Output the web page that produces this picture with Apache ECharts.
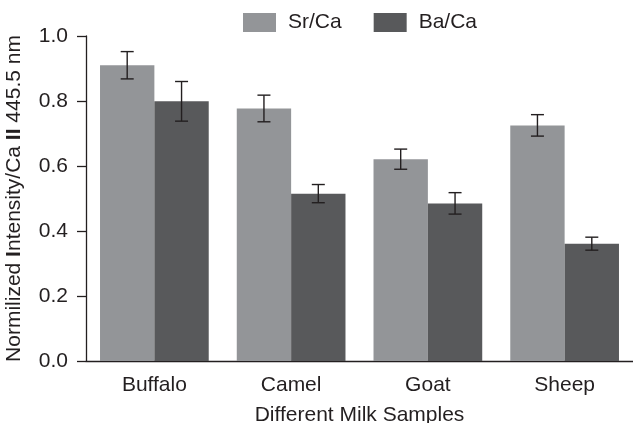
<!DOCTYPE html>
<html>
<head>
<meta charset="utf-8">
<script src="https://cdn.jsdelivr.net/npm/echarts@6/dist/echarts.min.js"></script>
<style>html,body{margin:0;padding:0;background:#fff}#c{width:633px;height:423px}</style>
</head>
<body>
<div id="c"></div>
<script>
const categories = ['Buffalo', 'Camel', 'Goat', 'Sheep'];
const seriesNames = ['Sr/Ca', 'Ba/Ca'];
const srValues = [0.910, 0.777, 0.621, 0.725];
const srErrors = [0.042, 0.041, 0.031, 0.033];
const baValues = [0.799, 0.515, 0.485, 0.361];
const baErrors = [0.061, 0.028, 0.033, 0.020];

const FONT = "'Liberation Sans', Arial, sans-serif";
const TXT = '#231f20';
const CAT_GAP = 0.205;

function errSeries(values, errs, idx) {
  return {
    type: 'custom',
    name: seriesNames[idx] + ' err',
    z: 10,
    silent: true,
    data: categories.map((c, i) => [i, values[i] - errs[i], values[i] + errs[i]]),
    renderItem: function (params, api) {
      const x = api.value(0);
      const lo = api.coord([x, api.value(1)]);
      const hi = api.coord([x, api.value(2)]);
      const band = api.size([1, 0])[0];
      const bw = band * (1 - CAT_GAP) / 2;
      const cx = lo[0] + (idx === 0 ? -bw / 2 : bw / 2);
      const cap = 6.5;
      const st = { stroke: TXT, lineWidth: 1.4 };
      return {
        type: 'group',
        children: [
          { type: 'line', shape: { x1: cx, y1: lo[1], x2: cx, y2: hi[1] }, style: st },
          { type: 'line', shape: { x1: cx - cap, y1: lo[1], x2: cx + cap, y2: lo[1] }, style: st },
          { type: 'line', shape: { x1: cx - cap, y1: hi[1], x2: cx + cap, y2: hi[1] }, style: st }
        ]
      };
    }
  };
}

const chart = echarts.init(document.getElementById('c'));
chart.setOption({
  animation: false,
  textStyle: { fontFamily: FONT, color: TXT },
  grid: { left: 86, right: 0, top: 36, bottom: 62, containLabel: false, outerBoundsMode: 'none' },
  legend: {
    data: seriesNames,
    left: 243,
    top: 12,
    padding: 0,
    icon: 'rect',
    itemWidth: 33,
    itemHeight: 19,
    itemGap: 32,
    textStyle: { fontFamily: FONT, fontSize: 21, color: TXT, padding: [0, 0, 0, 7] }
  },
  xAxis: {
    type: 'category',
    data: categories,
    name: 'Different Milk Samples',
    nameLocation: 'middle',
    nameGap: 44,
    nameTextStyle: { fontFamily: FONT, fontSize: 21, color: TXT },
    axisLine: { lineStyle: { color: TXT, width: 1.3 } },
    axisTick: { alignWithLabel: true, length: 8, lineStyle: { color: TXT, width: 1.3 } },
    axisLabel: { fontFamily: FONT, fontSize: 21, color: TXT, margin: 14 }
  },
  yAxis: {
    type: 'value',
    min: 0,
    max: 1.0,
    interval: 0.2,
    name: '{n|Normilized }{b|I}{n|ntensity/Ca }{b|II}{n| 445.5 nm}',
    nameLocation: 'middle',
    nameGap: 61,
    nameTextStyle: {
      fontFamily: FONT, fontSize: 21, color: TXT,
      rich: {
        n: { fontFamily: FONT, fontSize: 21, color: TXT },
        b: { fontFamily: FONT, fontSize: 21, color: TXT, fontWeight: 'bold' }
      }
    },
    splitLine: { show: false },
    axisLine: { show: true, lineStyle: { color: TXT, width: 1.3 } },
    axisTick: { show: true, length: 9, lineStyle: { color: TXT, width: 1.3 } },
    axisLabel: { fontFamily: FONT, fontSize: 21, color: TXT, margin: 18, formatter: v => v.toFixed(1) }
  },
  series: [
    { type: 'bar', name: seriesNames[0], data: srValues, barGap: '0%', barCategoryGap: (CAT_GAP * 100) + '%', itemStyle: { color: '#939598' } },
    { type: 'bar', name: seriesNames[1], data: baValues, barGap: '0%', barCategoryGap: (CAT_GAP * 100) + '%', itemStyle: { color: '#58595b' } },
    errSeries(srValues, srErrors, 0),
    errSeries(baValues, baErrors, 1)
  ]
});
</script>
</body>
</html>
